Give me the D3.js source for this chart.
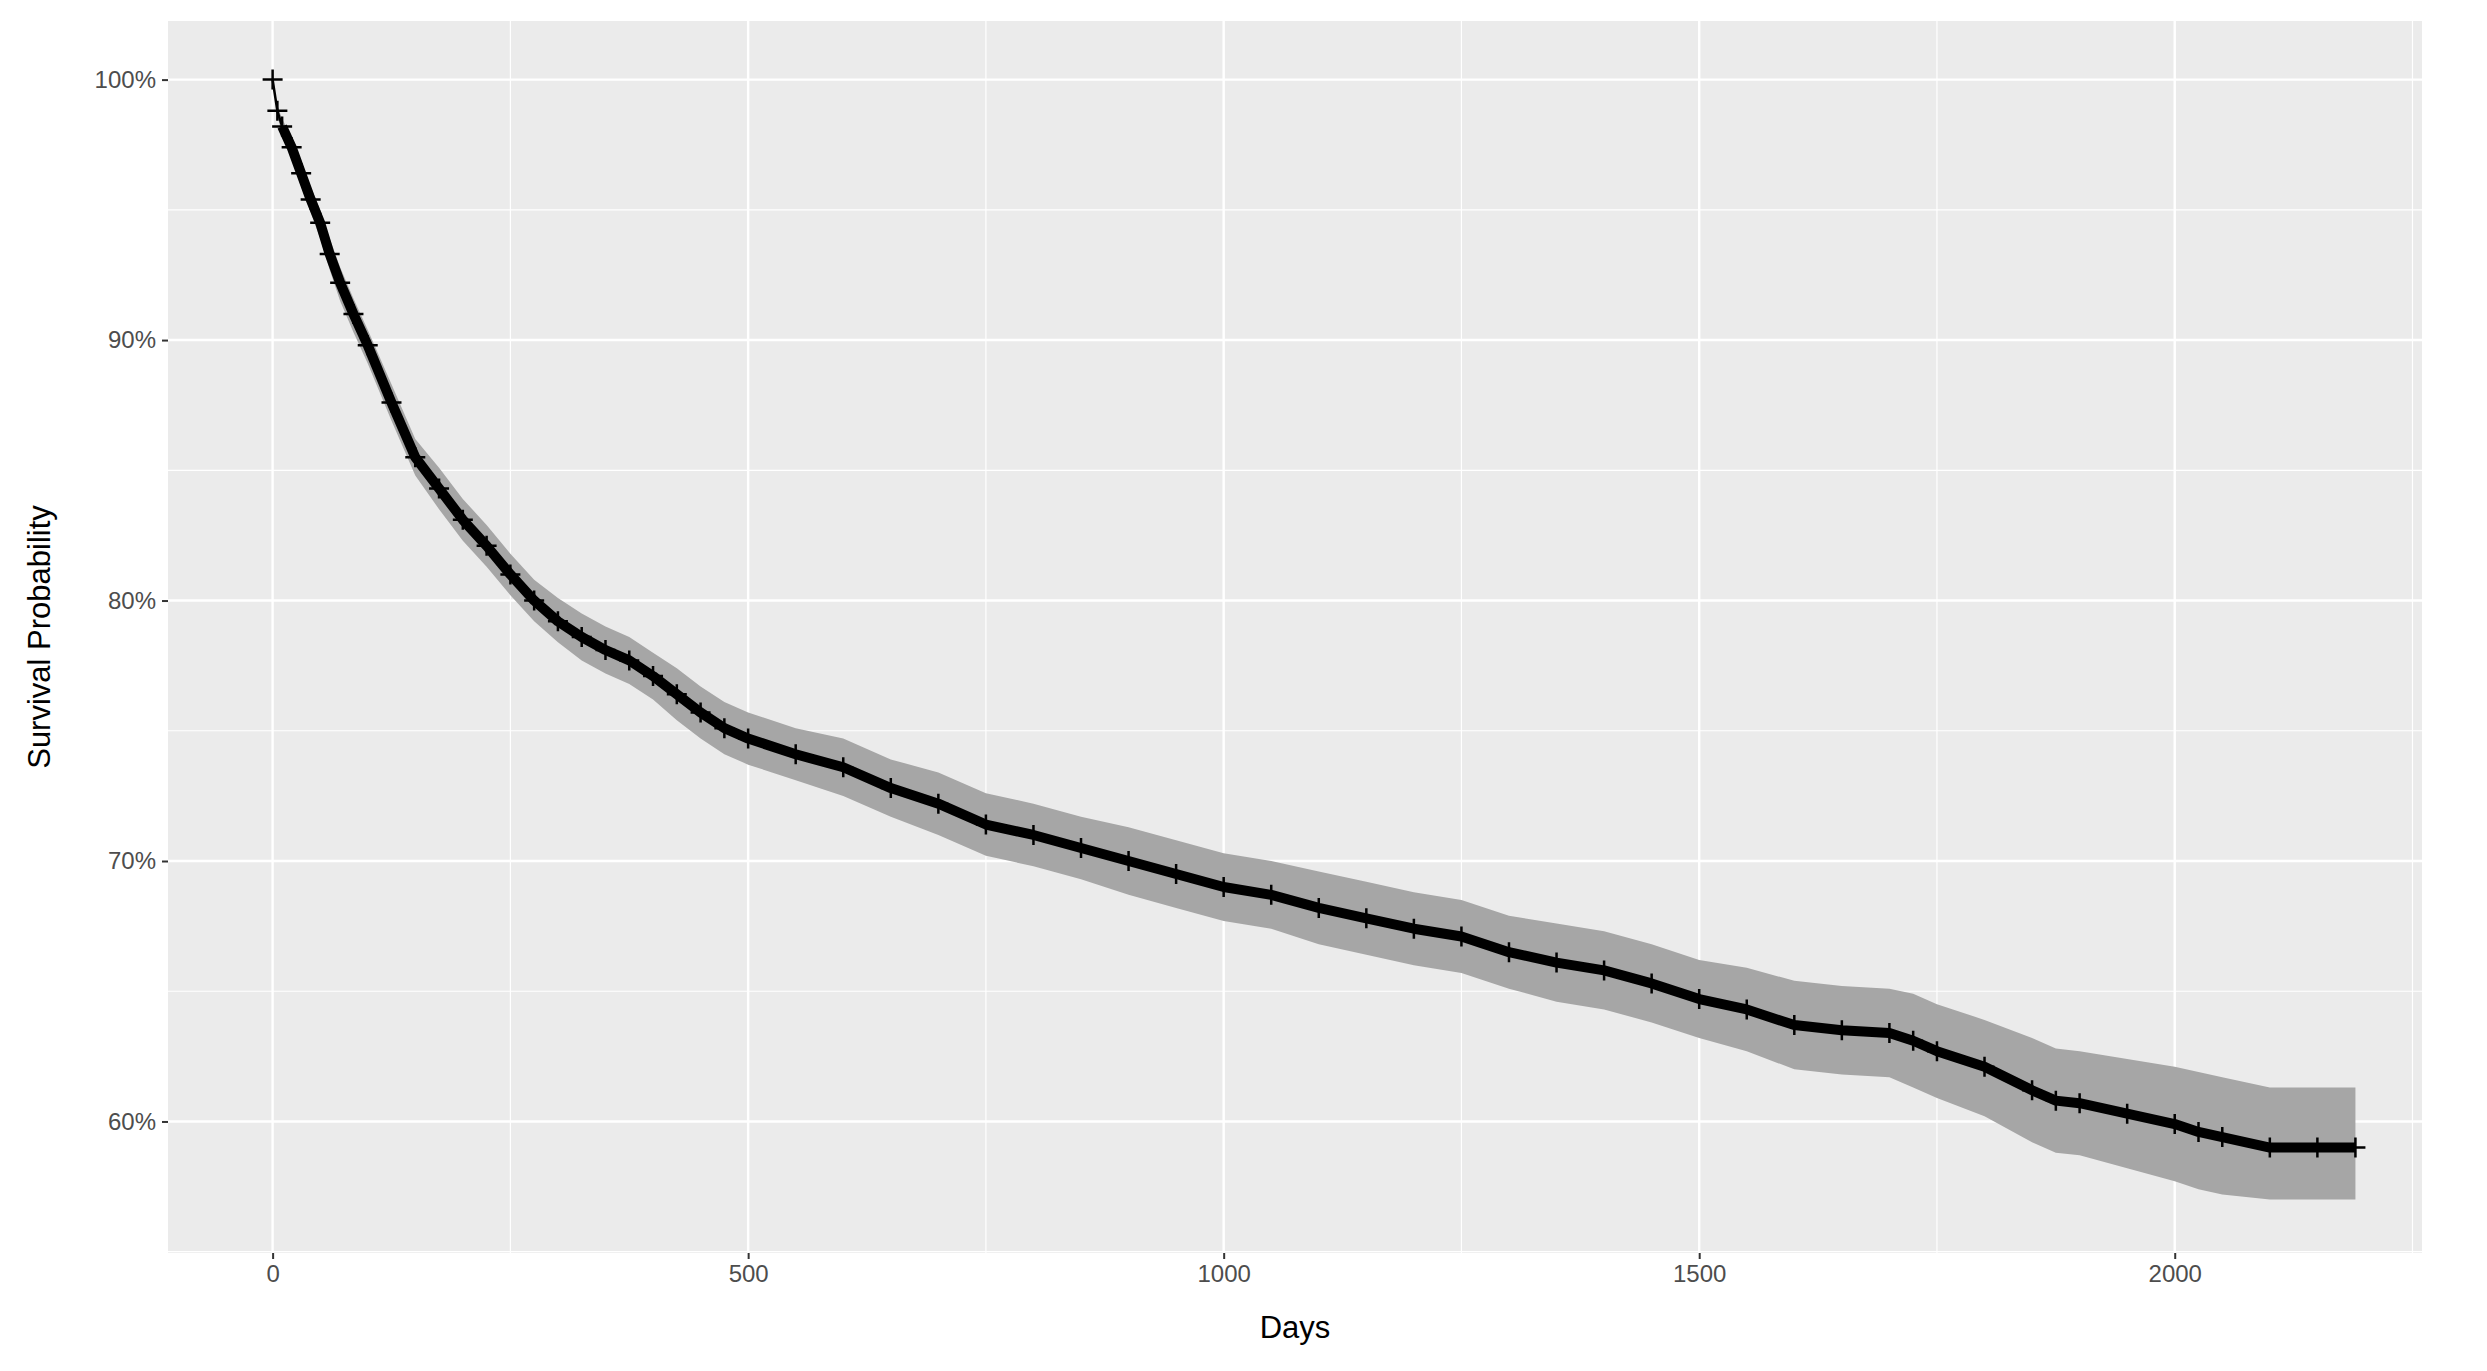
<!DOCTYPE html>
<html><head><meta charset="utf-8">
<script src="https://cdn.jsdelivr.net/npm/d3@7"></script>
<style>body{margin:0;background:#fff}text{font-family:"Liberation Sans",Arial,sans-serif}</style>
</head><body><svg id="c" width="2487" height="1371"></svg>
<script>
const days  = [0,5,10,20,30,40,50,60,71,85,100,125,150,175,200,225,250,275,300,325,350,375,400,425,450,475,500,550,600,650,700,750,800,850,900,950,1000,1050,1100,1150,1200,1250,1300,1350,1400,1450,1500,1550,1600,1650,1700,1725,1750,1800,1850,1875,1900,1950,2000,2025,2050,2100,2150,2190];
const surv  = [100,98.8,98.2,97.4,96.4,95.4,94.5,93.3,92.2,91.0,89.8,87.6,85.5,84.3,83.1,82.1,81.0,80.0,79.2,78.6,78.1,77.7,77.1,76.4,75.7,75.1,74.7,74.1,73.6,72.8,72.2,71.4,71.0,70.5,70.0,69.5,69.0,68.7,68.2,67.8,67.4,67.1,66.5,66.1,65.8,65.3,64.7,64.3,63.7,63.5,63.4,63.1,62.7,62.1,61.2,60.8,60.7,60.3,59.9,59.6,59.4,59.0,59.0,59.0];
const upper = [100,99.0,98.5,97.8,96.9,95.9,95.0,93.9,92.8,91.6,90.4,88.3,86.2,85.1,83.9,82.9,81.8,80.8,80.1,79.5,79.0,78.6,78.0,77.4,76.7,76.1,75.7,75.1,74.7,73.9,73.4,72.6,72.2,71.7,71.3,70.8,70.3,70.0,69.6,69.2,68.8,68.5,67.9,67.6,67.3,66.8,66.2,65.9,65.4,65.2,65.1,64.9,64.5,63.9,63.2,62.8,62.7,62.4,62.1,61.9,61.7,61.3,61.3,61.3];
const lower = [100,98.6,97.9,97.0,95.9,94.9,93.9,92.7,91.5,90.3,89.1,86.9,84.8,83.5,82.3,81.3,80.2,79.2,78.4,77.7,77.2,76.8,76.2,75.4,74.7,74.1,73.7,73.1,72.5,71.7,71.0,70.2,69.8,69.3,68.7,68.2,67.7,67.4,66.8,66.4,66.0,65.7,65.1,64.6,64.3,63.8,63.2,62.7,62.0,61.8,61.7,61.3,60.9,60.2,59.2,58.8,58.7,58.2,57.7,57.4,57.2,57.0,57.0,57.0];
const xTicks = [0,500,1000,1500,2000];
const yTicks = [60,70,80,90,100];

const svg = d3.select("#c");
const L=168,R=2422,T=21,B=1253;
const x = d3.scaleLinear().domain([-110,2260]).range([L,R]);
const y = d3.scaleLinear().domain([54.95,102.25]).range([B,T]);
svg.append("rect").attr("x",L).attr("y",T).attr("width",R-L).attr("height",B-T).attr("fill","#EBEBEB");
const g = svg.append("g");
[250,750,1250,1750,2250].forEach(v=>g.append("line").attr("x1",x(v)).attr("x2",x(v)).attr("y1",T).attr("y2",B).attr("stroke","#fff").attr("stroke-width",1.2));
[55,65,75,85,95].forEach(v=>g.append("line").attr("x1",L).attr("x2",R).attr("y1",y(v)).attr("y2",y(v)).attr("stroke","#fff").attr("stroke-width",1.2));
xTicks.forEach(v=>g.append("line").attr("x1",x(v)).attr("x2",x(v)).attr("y1",T).attr("y2",B).attr("stroke","#fff").attr("stroke-width",2.4));
yTicks.forEach(v=>g.append("line").attr("x1",L).attr("x2",R).attr("y1",y(v)).attr("y2",y(v)).attr("stroke","#fff").attr("stroke-width",2.4));

const pts = days.map((d,i)=>({d,s:surv[i],u:upper[i],l:lower[i]}));
svg.append("path").datum(pts).attr("fill","#A6A6A6")
  .attr("d",d3.area().x(p=>x(p.d)).y0(p=>y(p.l)).y1(p=>y(p.u)));
svg.append("path").datum(pts.slice(2)).attr("fill","none").attr("stroke","#000").attr("stroke-width",10).attr("stroke-linejoin","round")
  .attr("d",d3.line().x(p=>x(p.d)).y(p=>y(p.s)));
svg.append("path").datum(pts.slice(0,3)).attr("fill","none").attr("stroke","#000").attr("stroke-width",2.5)
  .attr("d",d3.line().x(p=>x(p.d)).y(p=>y(p.s)));
svg.selectAll(".cen").data(pts).enter().append("path").attr("stroke","#000").attr("stroke-width",2.5)
  .attr("d",p=>`M${x(p.d)-10},${y(p.s)}h20M${x(p.d)},${y(p.s)-10}v20`);

const xa = svg.append("g").attr("transform",`translate(0,${B})`).call(d3.axisBottom(x).tickValues(xTicks).tickFormat(d3.format("d")).tickSize(6).tickPadding(6));
const ya = svg.append("g").attr("transform",`translate(${L},0)`).call(d3.axisLeft(y).tickValues(yTicks).tickFormat(d=>d+"%").tickSize(6).tickPadding(6));
[xa,ya].forEach(a=>{a.select(".domain").remove();a.selectAll("line").attr("stroke","#333").attr("stroke-width",2);
  a.selectAll("text").attr("fill","#4D4D4D").style("font-size","24px").style("font-family","Liberation Sans, Arial, sans-serif");});
svg.append("text").attr("x",(L+R)/2).attr("y",1338).attr("text-anchor","middle").style("font-size","31px").text("Days");
svg.append("text").attr("transform",`translate(50,${(T+B)/2}) rotate(-90)`).attr("text-anchor","middle").style("font-size","31px").text("Survival Probability");
</script></body></html>
